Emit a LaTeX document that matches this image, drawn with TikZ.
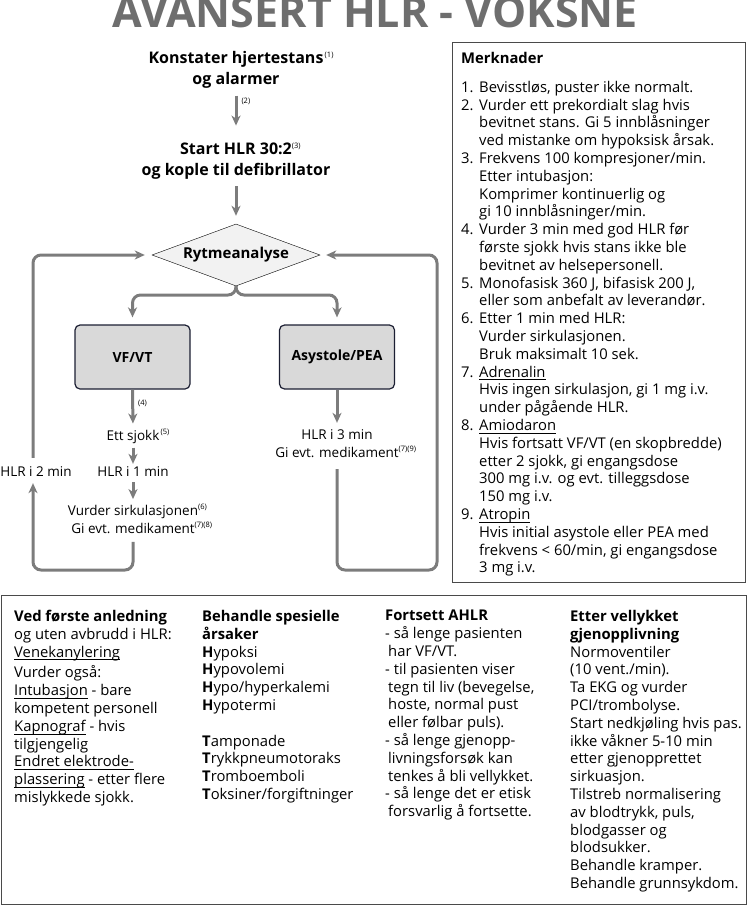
\documentclass[tikz,border=0pt]{standalone}
\usepackage{fontspec}
\setmainfont{Open Sans}
\usetikzlibrary{arrows.meta,shapes.geometric}
\definecolor{titlegray}{HTML}{6E6E6E}
\definecolor{flowgray}{HTML}{7C7C7C}
\definecolor{rhythmfill}{HTML}{D9D9D9}
\definecolor{rhythmline}{HTML}{1C1F33}
\definecolor{diamfill}{HTML}{F2F2F2}
\definecolor{framegray}{HTML}{4A4A4A}
\newcommand{\fnote}[1]{\rlap{\raisebox{6pt}{\mdseries\fontsize{7.5}{8}\selectfont #1}}}
\newcommand{\nr}[1]{\makebox[18pt][l]{#1}}
\newcommand{\undl}[1]{\setbox0\hbox{#1}\rlap{\rule[-3pt]{\wd0}{0.7pt}}\box0\relax}

\begin{document}
\begin{tikzpicture}[x=1pt, y=-1pt,
  head/.style={font=\bfseries\fontsize{16}{21}\selectfont, inner sep=0pt, align=center},
  txt/.style={font=\fontsize{13.5}{17.8}\selectfont, inner sep=0pt, align=center},
  column/.style={font=\fontsize{14.8}{17.8}\selectfont, inner sep=0pt, align=left, anchor=north west},
  fnum/.style={font=\fontsize{7.5}{8}\selectfont, text=black, inner sep=1pt},
  flow/.style={flowgray, line width=3pt, rounded corners=8pt,
    -{Stealth[length=10pt, width=9pt, inset=3pt]}},
  rhythm/.style={rectangle, rounded corners=5pt, draw=rhythmline, line width=1.2pt,
    fill=rhythmfill, minimum width=115pt, minimum height=64pt,
    font=\bfseries\fontsize{14}{16}\selectfont},
  frame/.style={draw=framegray, line width=1pt, anchor=north west}]
  \useasboundingbox (0,0) rectangle (750,915);

  % ── Title ──
  \node[font=\bfseries\fontsize{43}{43}\selectfont, titlegray, anchor=base] (title)
    at (375,28) {AVANSERT HLR - VOKSNE};

  % ── The algorithm ──
  \node[head] (konst) at (236,70) {Konstater hjertestans\fnote{\,(1)}\\og alarmer};
  \node[head] (start) at (236,161) {Start HLR 30:2\fnote{(3)}\\og kople til defibrillator};
  \node[diamond, draw, fill=diamfill, aspect=2.7, minimum width=168pt, minimum height=62pt,
    inner sep=0pt, font=\bfseries\fontsize{15}{16}\selectfont] (rytme) at (236,255) {Rytmeanalyse};

  \draw[flow, shorten <=7pt, shorten >=17pt] (konst.south) -- (start.north)
    node[fnum, right=3pt, pos=0.23] {(2)};
  \draw[flow, shorten <=7pt, shorten >=8pt] (start.south) -- (rytme.north);

  % Two rhythms
  \node[rhythm] (vf) at (132.5,357) {VF/VT};
  \node[rhythm] (asy) at (337,357) {Asystole/PEA};
  \coordinate (split) at (236,295);
  \draw[flow, shorten >=7pt] (rytme.south) -- (split) -| (vf.north);
  \draw[flow, shorten >=7pt] (rytme.south) -- (split) -| (asy.north);

  % Shockable branch
  \node[txt] (sjokk) at (133,436) {Ett sjokk\fnote{\,(5)}};
  \node[txt] (hlr1) at (133,472) {HLR i 1 min};
  \node[txt] (vurder) at (133,519) {Vurder sirkulasjonen\fnote{(6)}\\Gi evt. medikament\fnote{(7)(8)}};
  \node[txt] (hlr2) at (36,472) {HLR i 2 min};
  \draw[flow, shorten >=5pt] (vf.south) -- (sjokk.north)
    node[fnum, right=3pt, pos=0.35] {(4)};
  \draw[flow, shorten <=4pt, shorten >=3pt] (sjokk.south) -- (hlr1.north);
  \draw[flow, shorten <=5pt, shorten >=5pt] (hlr1.south) -- (vurder.north);
  \coordinate (lcorner) at (33,570);
  \draw[flow, shorten <=8pt, shorten >=6pt] (vurder.south) |- (lcorner) -- (lcorner |- hlr2.south);
  \draw[flow, shorten <=9pt, shorten >=7pt] (lcorner |- hlr2.north) |- (rytme.west);

  % Non-shockable branch
  \node[txt] (hlr3) at (337,444) {HLR i 3 min\\Gi evt. medikament\fnote{(7)(9)}};
  \draw[flow, shorten >=7pt] (asy.south) -- (hlr3.north);
  \coordinate (rcorner) at (437,570);
  \draw[flow, shorten <=11pt, shorten >=6pt] (hlr3.south) |- (rcorner) |- (rytme.east);

  % ── Notes ──
  \node[frame, minimum width=293pt, minimum height=540pt] (notes) at (452,42) {};
  \node[column] (notetext) at (461,52) {\textbf{Merknader}\\[11pt]
    \nr{1.}Bevisstløs, puster ikke normalt.\\
    \nr{2.}Vurder ett prekordialt slag hvis\\
    \nr{}bevitnet stans. Gi 5 innblåsninger\\
    \nr{}ved mistanke om hypoksisk årsak.\\
    \nr{3.}Frekvens 100 kompresjoner/min.\\
    \nr{}Etter intubasjon:\\
    \nr{}Komprimer kontinuerlig og\\
    \nr{}gi 10 innblåsninger/min.\\
    \nr{4.}Vurder 3 min med god HLR før\\
    \nr{}første sjokk hvis stans ikke ble\\
    \nr{}bevitnet av helsepersonell.\\
    \nr{5.}Monofasisk 360 J, bifasisk 200 J,\\
    \nr{}eller som anbefalt av leverandør.\\
    \nr{6.}Etter 1 min med HLR:\\
    \nr{}Vurder sirkulasjonen.\\
    \nr{}Bruk maksimalt 10 sek.\\
    \nr{7.}\undl{Adrenalin}\\
    \nr{}Hvis ingen sirkulasjon, gi 1 mg i.v.\\
    \nr{}under pågående HLR.\\
    \nr{8.}\undl{Amiodaron}\\
    \nr{}Hvis fortsatt VF/VT (en skopbredde)\\
    \nr{}etter 2 sjokk, gi engangsdose\\
    \nr{}300 mg i.v. og evt. tilleggsdose\\
    \nr{}150 mg i.v.\\
    \nr{9.}\undl{Atropin}\\
    \nr{}Hvis initial asystole eller PEA med\\
    \nr{}frekvens < 60/min, gi engangsdose\\
    \nr{}3 mg i.v.};

  % ── Bottom panel ──
  \node[frame, minimum width=745pt, minimum height=309pt] (panel) at (1,595) {};
  \node[column] (first) at (14,610) {\textbf{Ved første anledning}\\
    og uten avbrudd i HLR:\\
    \undl{Venekanylering}\\[3pt]
    Vurder også:\\
    \undl{Intubasjon} - bare\\
    kompetent personell\\
    \undl{Kapnograf} - hvis\\
    tilgjengelig\\
    \undl{Endret elektrode-}\\
    \undl{plassering} - etter flere\\
    mislykkede sjokk.};
  \node[column] (causes) at (202,610) {\textbf{Behandle spesielle}\\
    \textbf{årsaker}\\
    \textbf{H}ypoksi\\
    \textbf{H}ypovolemi\\
    \textbf{H}ypo/hyperkalemi\\
    \textbf{H}ypotermi\\[17.8pt]
    \textbf{T}amponade\\
    \textbf{T}rykkpneumotoraks\\
    \textbf{T}romboemboli\\
    \textbf{T}oksiner/forgiftninger};
  \node[column] (cont) at (385,610) {\textbf{Fortsett AHLR}\\
    - så lenge pasienten\\
    \hspace*{3pt}har VF/VT.\\
    - til pasienten viser\\
    \hspace*{3pt}tegn til liv (bevegelse,\\
    \hspace*{3pt}hoste, normal pust\\
    \hspace*{3pt}eller følbar puls).\\
    - så lenge gjenopp-\\
    \hspace*{3pt}livningsforsøk kan\\
    \hspace*{3pt}tenkes å bli vellykket.\\
    - så lenge det er etisk\\
    \hspace*{3pt}forsvarlig å fortsette.};
  \node[column] (after) at (570,610) {\textbf{Etter vellykket}\\
    \textbf{gjenopplivning}\\
    Normoventiler\\
    (10 vent./min).\\
    Ta EKG og vurder\\
    PCI/trombolyse.\\
    Start nedkjøling hvis pas.\\
    ikke våkner 5-10 min\\
    etter gjenopprettet\\
    sirkuasjon.\\
    Tilstreb normalisering\\
    av blodtrykk, puls,\\
    blodgasser og\\
    blodsukker.\\
    Behandle kramper.\\
    Behandle grunnsykdom.};
\end{tikzpicture}
\end{document}
